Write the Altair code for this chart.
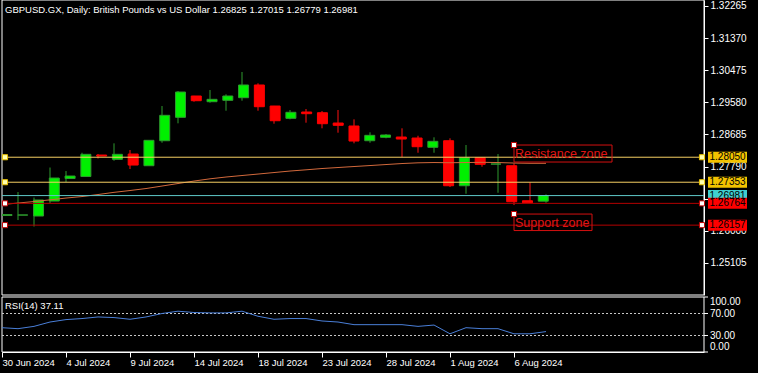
import altair as alt
import pandas as pd

# ---------------- data ----------------
dates = ["30 Jun 2024", "1 Jul 2024", "2 Jul 2024", "3 Jul 2024", "4 Jul 2024", "5 Jul 2024",
         "7 Jul 2024", "8 Jul 2024", "9 Jul 2024", "10 Jul 2024", "11 Jul 2024", "12 Jul 2024",
         "14 Jul 2024", "15 Jul 2024", "16 Jul 2024", "17 Jul 2024", "18 Jul 2024", "19 Jul 2024",
         "21 Jul 2024", "22 Jul 2024", "23 Jul 2024", "24 Jul 2024", "25 Jul 2024", "26 Jul 2024",
         "28 Jul 2024", "29 Jul 2024", "30 Jul 2024", "31 Jul 2024", "1 Aug 2024", "2 Aug 2024",
         "4 Aug 2024", "5 Aug 2024", "6 Aug 2024", "7 Aug 2024", "8 Aug 2024"]

opens = [1.26425, 1.26438, 1.26411, 1.26829, 1.27456, 1.27512, 1.28111, 1.27991, 1.28139, 1.27813,
         1.28510, 1.29162, 1.29756, 1.29597, 1.29636, 1.29709, 1.30063, 1.29477, 1.29134, 1.29310,
         1.29290, 1.29003, 1.28920, 1.28510, 1.28605, 1.28613, 1.28585, 1.28326, 1.28510, 1.27255,
         1.28036, 1.27860, 1.27813, 1.26837, 1.26825]
highs = [1.26466, 1.27080, 1.26926, 1.27763, 1.27665, 1.28175, 1.28139, 1.28437, 1.28251, 1.28529,
         1.29477, 1.29895, 1.29760, 1.29923, 1.29803, 1.30425, 1.30110, 1.29480, 1.29366, 1.29394,
         1.29338, 1.29366, 1.29106, 1.28744, 1.28697, 1.28856, 1.28649, 1.28605, 1.28577, 1.28390,
         1.28042, 1.28139, 1.27880, 1.27350, 1.27015]
lows = [1.26411, 1.26299, 1.26118, 1.26773, 1.27358, 1.27498, 1.28014, 1.27952, 1.27721, 1.27805,
        1.28454, 1.28995, 1.29597, 1.29569, 1.29346, 1.29625, 1.29346, 1.28984, 1.29106, 1.29012,
        1.28856, 1.28733, 1.28437, 1.28454, 1.28577, 1.28055, 1.28175, 1.28175, 1.27219, 1.27032,
        1.27785, 1.27060, 1.26717, 1.26773, 1.26779]
closes = [1.26452, 1.26440, 1.26857, 1.27470, 1.27526, 1.28131, 1.28083, 1.28131, 1.27832, 1.28521,
          1.29218, 1.29867, 1.29625, 1.29664, 1.29756, 1.30063, 1.29458, 1.29067, 1.29302, 1.29263,
          1.28984, 1.28939, 1.28501, 1.28660, 1.28669, 1.28557, 1.28343, 1.28493, 1.27255, 1.28036,
          1.27852, 1.27860, 1.26809, 1.26781, 1.26981]
ma_values = [1.26731, 1.26773, 1.26815, 1.26862, 1.26912, 1.26954, 1.27010, 1.27071, 1.27122, 1.27177,
             1.27247, 1.27317, 1.27386, 1.27448, 1.27498, 1.27540, 1.27581, 1.27623, 1.27665, 1.27699,
             1.27735, 1.27763, 1.27791, 1.27818, 1.27846, 1.27874, 1.27894, 1.27902, 1.27896, 1.27902,
             1.27908, 1.27902, 1.27888, 1.27880, 1.27880]
rsi_values = [44.2, 42.4, 46.6, 54.5, 58.9, 60.8, 63.7, 62.6, 59.5, 63.7,
              70.0, 74.2, 71.8, 71.1, 71.1, 74.2, 65.0, 59.5, 60.8, 60.8,
              56.4, 54.5, 49.7, 49.7, 49.7, 49.7, 46.6, 49.0, 33.1, 44.2,
              42.4, 42.4, 33.1, 33.1, 37.11]

title_text = "GBPUSD.GX, Daily:  British Pounds vs US Dollar  1.26825 1.27015 1.26779 1.26981"
rsi_label = "RSI(14) 37.11"

price_ticks = [1.25105, 1.26000, 1.26895, 1.27790, 1.28685, 1.29580, 1.30475, 1.31370, 1.32265]
rsi_ticks = [0, 30, 70, 100]
rsi_levels = [30, 70]
date_tick_idx = [0, 4, 8, 12, 16, 20, 24, 28, 32]

res_lines = [1.28050, 1.27353]
sup_lines = [1.26764, 1.26157]
bid_price = 1.26981

tag_prices = [1.28050, 1.27353, 1.26981, 1.26764, 1.26157]
tag_colors = ["#f2c200", "#f2c200", "#3fcfcf", "#ff0000", "#ff0000"]

zone_labels = ["Resistance zone", "Support zone"]
zone_x = [32, 32]
zone_x2 = [38.125, 36.875]
zone_top = [1.28390, 1.26466]
zone_bottom = [1.27916, 1.26006]

# ---------------- tables ----------------
n = len(dates)
df = pd.DataFrame({"i": list(range(n)), "date": dates, "open": opens, "high": highs,
                   "low": lows, "close": closes, "ma": ma_values, "rsi": rsi_values})
res_df = pd.DataFrame({"p": res_lines})
sup_df = pd.DataFrame({"p": sup_lines})
tag_df = pd.DataFrame({"p": tag_prices, "col": tag_colors,
                       "txt": [f"{p:.5f}" for p in tag_prices]})
zone_df = pd.DataFrame({"label": zone_labels, "x": zone_x, "x2": zone_x2,
                        "top": zone_top, "bottom": zone_bottom})
lvl_df = pd.DataFrame({"v": rsi_levels})
rt_df = pd.DataFrame({"v": rsi_ticks})
one = pd.DataFrame({"a": [0]})

FONT = "Liberation Sans"
W = 702          # plot width
H_MAIN = 295     # main panel bottom
RSI_TOP = 297
H = 352          # total plot height (RSI bottom)

xs = alt.Scale(domain=[0, W / 16], nice=False, zero=False)
ys = alt.Scale(domain=[1.24210, 1.32432], range=[H_MAIN, 0], nice=False, zero=False)
rs = alt.Scale(domain=[0, 100], range=[H, RSI_TOP], nice=False, zero=False)

label_js = "[" + ",".join("'" + d + "'" for d in dates) + "][datum.value]"
x_axis = alt.Axis(values=date_tick_idx, labelExpr=label_js, labelAlign="left", labelColor="white",
                  tickColor="white", domainColor="white", tickSize=5, labelPadding=0,
                  labelFontSize=9.5, labelFont=FONT, grid=False, title=None,
                  labelFlush=False, labelOverlap=False)
y_axis = alt.Axis(orient="right", values=price_ticks, format=".5f", labelColor="white",
                  tickColor="white", domainColor="white", tickSize=4, labelPadding=2,
                  labelFontSize=10, labelFont=FONT, grid=False, title=None,
                  labelOverlap=False, labelFlush=False)

X = alt.X("i:Q", scale=xs, axis=None)


def Yp(field):
    return alt.Y(field, scale=ys, axis=None)


def Yr(field):
    return alt.Y(field, scale=rs, axis=None)


UP = "datum.close >= datum.open"
DN = "datum.close < datum.open"
base = alt.Chart(df)

frame_main = alt.Chart(one).mark_rect(filled=False, fill=None, stroke="white", strokeWidth=1).encode(
    x=alt.value(0), x2=alt.value(W), y=alt.value(0), y2=alt.value(H_MAIN))
frame_rsi = alt.Chart(one).mark_rect(filled=False, fill=None, stroke="white", strokeWidth=1).encode(
    x=alt.value(0), x2=alt.value(W), y=alt.value(RSI_TOP), y2=alt.value(H))

# axis carrier (x axis + main price axis)
axis_layer = base.mark_rule(opacity=0).encode(
    x=alt.X("i:Q", scale=xs, axis=x_axis),
    y=alt.Y("high:Q", scale=ys, axis=y_axis),
)

wick_up = base.transform_filter(UP).mark_rule(clip=True, strokeWidth=1, color="#2f9a2f").encode(
    x=X, y=Yp("low:Q"), y2="high:Q")
wick_dn = base.transform_filter(DN).mark_rule(clip=True, strokeWidth=1, color="#ff1010").encode(
    x=X, y=Yp("low:Q"), y2="high:Q")
body_up = base.transform_filter(UP).mark_bar(size=10, strokeWidth=1, clip=True, fill="#00f000",
                                             stroke="#2f9a2f").encode(x=X, y=Yp("open:Q"), y2="close:Q")
body_dn = base.transform_filter(DN).mark_bar(size=10, strokeWidth=1, clip=True, fill="#ff0000",
                                             stroke="#ff0000").encode(x=X, y=Yp("open:Q"), y2="close:Q")
ma_line = base.mark_line(clip=True, strokeWidth=1, color="#d2693c").encode(x=X, y=Yp("ma:Q"))

res_rule = alt.Chart(res_df).mark_rule(strokeWidth=1, color="#f5cf63").encode(y=Yp("p:Q"))
sup_rule = alt.Chart(sup_df).mark_rule(strokeWidth=1, color="#b30000").encode(y=Yp("p:Q"))
bid_line = alt.Chart(pd.DataFrame({"p": [bid_price]})).mark_rule(strokeWidth=1, color="#5fc9c9").encode(
    y=Yp("p:Q"))


def squares(data, xpos, fill, stroke):
    return alt.Chart(data).mark_square(size=26, opacity=1, filled=True, fill=fill, stroke=stroke,
                                       strokeWidth=1).encode(x=alt.value(xpos), y=Yp("p:Q"))


sq_layers = [squares(res_df, 3, "#ffffb0", "#e8c000"), squares(res_df, 700, "#ffffb0", "#e8c000"),
             squares(sup_df, 3, "#ffffff", "#c00000"), squares(sup_df, 700, "#ffffff", "#c00000")]

zone_box = alt.Chart(zone_df).mark_rect(fill=None, filled=False, stroke="#d41010", strokeWidth=1).encode(
    x=alt.X("x:Q", scale=xs, axis=None), x2="x2:Q", y=Yp("top:Q"), y2="bottom:Q")
zone_text = alt.Chart(zone_df).mark_text(align="left", baseline="alphabetic", dx=1, dy=13,
                                         fontSize=12.5, font=FONT, color="#e01515").encode(
    x=alt.X("x:Q", scale=xs, axis=None), y=Yp("top:Q"), text="label:N")
zone_sq = alt.Chart(zone_df).mark_square(size=26, opacity=1, filled=True, fill="white",
                                         stroke="#c00000", strokeWidth=1).encode(
    x=alt.X("x:Q", scale=xs, axis=None), y=Yp("top:Q"))

tag_box = alt.Chart(tag_df).mark_tick(orient="horizontal", size=39, thickness=11, opacity=1).encode(
    x=alt.value(725.5), y=Yp("p:Q"), color=alt.Color("col:N", scale=None, legend=None))
tag_text = alt.Chart(tag_df).mark_text(align="left", baseline="middle", fontSize=10, font=FONT,
                                       color="black").encode(
    x=alt.value(707.5), y=Yp("p:Q"), text="txt:N")

title_mark = alt.Chart(pd.DataFrame({"t": [title_text]})).mark_text(
    align="left", baseline="middle", fontSize=9.5, font=FONT, color="white"
).encode(x=alt.value(3), y=alt.value(10), text="t:N")

# ---------------- RSI panel ----------------
levels = alt.Chart(lvl_df).mark_rule(strokeWidth=1, color="#c8c8c8", strokeDash=[2, 2]).encode(
    y=Yr("v:Q"))
rsi_line = base.mark_line(strokeWidth=1, color="#4a7fd8", clip=True).encode(x=X, y=Yr("rsi:Q"))
rsi_title = alt.Chart(pd.DataFrame({"t": [rsi_label]})).mark_text(
    align="left", baseline="middle", fontSize=9.5, font=FONT, color="white"
).encode(x=alt.value(3), y=alt.value(RSI_TOP + 9), text="t:N")
rsi_ticks_m = alt.Chart(rt_df).mark_rule(color="white", strokeWidth=1).encode(
    x=alt.value(W), x2=alt.value(W + 4), y=Yr("v:Q"))


def rsi_lab(flt, baseline):
    return alt.Chart(rt_df).transform_filter(flt).mark_text(
        align="left", baseline=baseline, fontSize=10, font=FONT, color="white").encode(
        x=alt.value(W + 6), y=Yr("v:Q"), text=alt.Text("v:Q", format=".2f"))


rsi_labels = [rsi_lab("datum.v > 0 && datum.v < 100", "middle"),
              rsi_lab("datum.v >= 100", "top"),
              rsi_lab("datum.v <= 0", "bottom")]

layers = [axis_layer, frame_main, frame_rsi, wick_up, wick_dn, body_up, body_dn, ma_line,
          res_rule, sup_rule, bid_line] + sq_layers + [zone_box, zone_text, zone_sq, tag_box, tag_text,
          title_mark, levels, rsi_line, rsi_title, rsi_ticks_m] + rsi_labels

chart = alt.layer(*layers).resolve_scale(x="independent", y="independent").properties(
    width=W, height=H,
    autosize=alt.AutoSizeParams(type="none"),
    padding={"left": 2, "top": 0, "right": 54, "bottom": 21},
).configure(background="black").configure_view(stroke=None).configure_text(font=FONT)

chart.save("out.html", embed_options={"renderer": "svg", "actions": False})
